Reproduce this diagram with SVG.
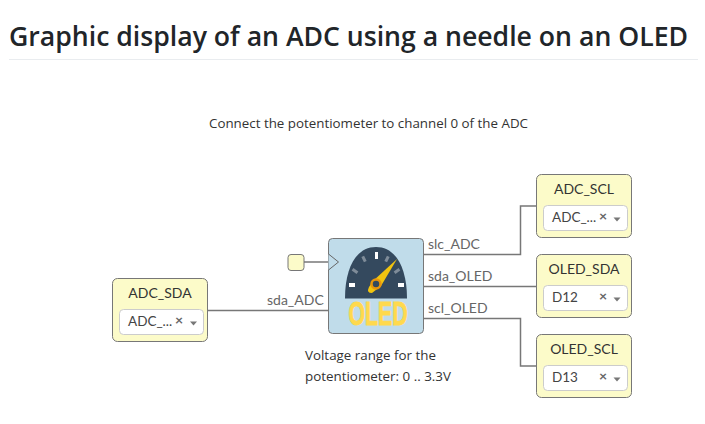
<svg xmlns="http://www.w3.org/2000/svg" width="705" height="424" viewBox="0 0 705 424">
<style>
text{font-family:Lato,"Open Sans",sans-serif;fill:#333}
.h{font-family:"Open Sans","Noto Sans",sans-serif;font-size:27px;font-weight:600;fill:#212529}
.t{font-family:"Open Sans","Noto Sans",sans-serif;font-size:13.500px;fill:#333}
.l{font-size:14px;fill:#666}
.n{font-size:14px;text-anchor:middle;fill:#333}
.v{font-size:13.500px;fill:#444}
.x{font-size:14px;font-weight:700;fill:#666}
.b{fill:#fcfbc9;stroke:#777;stroke-width:1}
.s{fill:#fff;stroke:#ccc;stroke-width:1}
.c{fill:none;stroke:#777;stroke-width:1.500}
.a{fill:#777}
</style>
<rect width="705" height="424" fill="#fff"/>
<text class="h" x="9" y="46" textLength="679" lengthAdjust="spacingAndGlyphs">Graphic display of an ADC using a needle on an OLED</text>
<rect x="9" y="59" width="689" height="1" fill="#e9ecef"/>
<text class="t" x="209" y="128" textLength="319" lengthAdjust="spacingAndGlyphs">Connect the potentiometer to channel 0 of the ADC</text>
<g id="connectors">
<path class="c" d="M208 310.500H329"/>
<path class="c" d="M304 262H329"/>
<path class="c" d="M424 254.500H520.500V206H537"/>
<path class="c" d="M424 286.500H537"/>
<path class="c" d="M424 318.500H520.500V366H537"/>
</g>
<g id="labels">
<text class="l" x="267" y="305">sda_ADC</text>
<text class="l" x="428" y="249">slc_ADC</text>
<text class="l" x="428" y="281">sda_OLED</text>
<text class="l" x="428" y="313">scl_OLED</text>
</g>
<g id="input">
<rect class="b" x="288" y="254.500" width="16" height="16" rx="3"/>
</g>
<g id="block">
<rect x="328.500" y="238.500" width="95" height="95" rx="4" fill="#c0dcea" stroke="#777"/>
<path d="M328.500 254L338.500 262L328.500 270" fill="#c0dcea" stroke="#666" stroke-width="1"/>
<path d="M345 298.500C345 268 356 247 376 247C396 247 407 268 407 298.500Z" fill="#34495e"/>
<g fill="#fff"><rect x="349" y="283" width="6" height="4"/><rect x="398" y="283" width="6" height="4"/><rect x="375" y="252" width="3" height="7"/></g>
<g fill="#7f8c99"><rect x="-1.500" y="-3" width="3" height="6" transform="translate(364 259) rotate(-25)"/><rect x="-1.500" y="-3" width="3" height="6" transform="translate(387 259) rotate(25)"/><rect x="-1.500" y="-3" width="3" height="6" transform="translate(355 271) rotate(-55)"/><rect x="-1.500" y="-3" width="3" height="6" transform="translate(397 271) rotate(55)"/></g>
<path d="M397 259L381 286L372 293Q366 293 369 287L373 281Z" fill="#f1c40f"/>
<circle cx="376" cy="284" r="4.500" fill="#34495e" stroke="#e8960c" stroke-width="2.500"/>
<text x="378" y="325" text-anchor="middle" textLength="59" lengthAdjust="spacingAndGlyphs" stroke="#ffd94d" stroke-width="1" style="font-family:'Liberation Sans',sans-serif;font-size:33px;font-weight:700;fill:#ffd94d">OLED</text>
</g>
<text class="t" x="305" y="360" textLength="131" lengthAdjust="spacingAndGlyphs">Voltage range for the</text>
<text class="t" x="305" y="381" textLength="146" lengthAdjust="spacingAndGlyphs">potentiometer: 0 .. 3.3V</text>
<g id="ADC_SDA">
<rect class="b" x="112.500" y="278.500" width="95" height="63" rx="5"/>
<text class="n" x="160" y="298">ADC_SDA</text>
<rect class="s" x="119.500" y="309.500" width="84" height="25" rx="4"/>
<text class="v" x="128" y="325.500">ADC_...</text><text class="x" x="175" y="325">×</text><path class="a" d="M190 321.500H197L193.500 325.500Z"/>
</g>
<g id="ADC_SCL">
<rect class="b" x="536.500" y="174.500" width="95" height="63" rx="5"/>
<text class="n" x="584" y="194">ADC_SCL</text>
<rect class="s" x="543.500" y="205.500" width="84" height="25" rx="4"/>
<text class="v" x="552" y="221.500">ADC_...</text><text class="x" x="599" y="221">×</text><path class="a" d="M613.500 217.500H620.500L617 221.500Z"/>
</g>
<g id="OLED_SDA">
<rect class="b" x="536.500" y="254.500" width="95" height="63" rx="5"/>
<text class="n" x="584" y="274">OLED_SDA</text>
<rect class="s" x="543.500" y="285.500" width="84" height="25" rx="4"/>
<text class="v" x="552" y="301.500">D12</text><text class="x" x="599" y="301">×</text><path class="a" d="M613.500 297.500H620.500L617 301.500Z"/>
</g>
<g id="OLED_SCL">
<rect class="b" x="536.500" y="334.500" width="95" height="63" rx="5"/>
<text class="n" x="584" y="354">OLED_SCL</text>
<rect class="s" x="543.500" y="365.500" width="84" height="25" rx="4"/>
<text class="v" x="552" y="381.500">D13</text><text class="x" x="599" y="381">×</text><path class="a" d="M613.500 377.500H620.500L617 381.500Z"/>
</g>
</svg>
